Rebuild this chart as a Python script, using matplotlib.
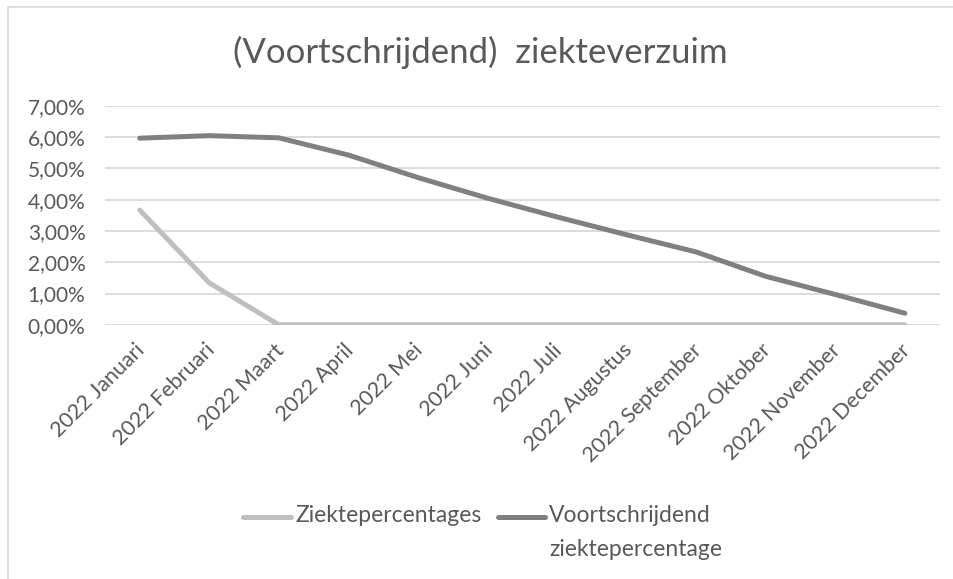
import matplotlib.pyplot as plt
from matplotlib.lines import Line2D
from matplotlib.patches import Rectangle
from matplotlib.ticker import FuncFormatter
from matplotlib.transforms import ScaledTranslation

months = ["2022 Januari", "2022 Februari", "2022 Maart", "2022 April", "2022 Mei",
          "2022 Juni", "2022 Juli", "2022 Augustus", "2022 September",
          "2022 Oktober", "2022 November", "2022 December"]
ziekte = [3.67, 1.34, 0.0, 0.0, 0.0, 0.0, 0.0, 0.0, 0.0, 0.0, 0.0, 0.0]
voortschrijdend = [5.97, 6.05, 5.98, 5.43, 4.71, 4.05, 3.45, 2.88, 2.33, 1.55, 0.97, 0.37]

plt.rcParams['font.family'] = ['Lato', 'DejaVu Sans']
txt = "#595959"
c_ziekte = "#BFBFBF"
c_voort = "#808080"

W, H = 954, 579
fig = plt.figure(figsize=(W / 100, H / 100), dpi=100)
ax = fig.add_axes([0.110, 0.439, 0.875, 0.378])

x = range(len(months))
ax.plot(x, ziekte, color=c_ziekte, lw=3.6, solid_capstyle="round", solid_joinstyle="round", zorder=3)
ax.plot(x, voortschrijdend, color=c_voort, lw=3.6, solid_capstyle="round", solid_joinstyle="round", zorder=3)

ax.set_xlim(-0.5, len(months) - 0.5)
ax.set_ylim(0, 7)
ax.set_yticks(range(8))
ax.yaxis.set_major_formatter(FuncFormatter(lambda v, p: f"{v:.2f}%".replace(".", ",")))
ax.grid(axis="y", color="#D9D9D9", lw=1.3)
ax.set_axisbelow(True)
for s in ax.spines.values():
    s.set_visible(False)
ax.tick_params(axis="both", length=0, colors=txt)
ax.tick_params(axis="y", pad=14, labelsize=15)
ax.tick_params(axis="x", pad=6, labelsize=15.5)
ax.set_xticks(list(x))
ax.set_xticklabels(months, rotation=45, ha="right", rotation_mode="anchor")
shift = ScaledTranslation(-5 / 100, -7 / 100, fig.dpi_scale_trans)
for lab in ax.get_xticklabels():
    lab.set_transform(lab.get_transform() + shift)

fig.text(0.503, 0.91, "(Voortschrijdend)  ziekteverzuim", ha="center", va="center",
         fontsize=25, color=txt)

# legend, handle aligned with first line of text as in Excel
def legend_item(x0, x1, y, color, label):
    fig.add_artist(Line2D([x0 / W, x1 / W], [1 - y / H, 1 - y / H], transform=fig.transFigure,
                          color=color, lw=3.6, solid_capstyle="round"))
    fig.text((x1 + 4) / W, 1 - (y - 12) / H, label, ha="left", va="top", fontsize=16.5,
             color=txt, linespacing=1.75)

legend_item(243, 291, 517, c_ziekte, "Ziektepercentages")
legend_item(498, 545, 517, c_voort, "Voortschrijdend\nziektepercentage")

fig.patches.append(Rectangle((8 / W, -0.1), 2, 1.1 - 7 / H, transform=fig.transFigure,
                             fill=False, edgecolor="#D9D9D9", lw=1.2))

fig.savefig("out.png", dpi=100)
